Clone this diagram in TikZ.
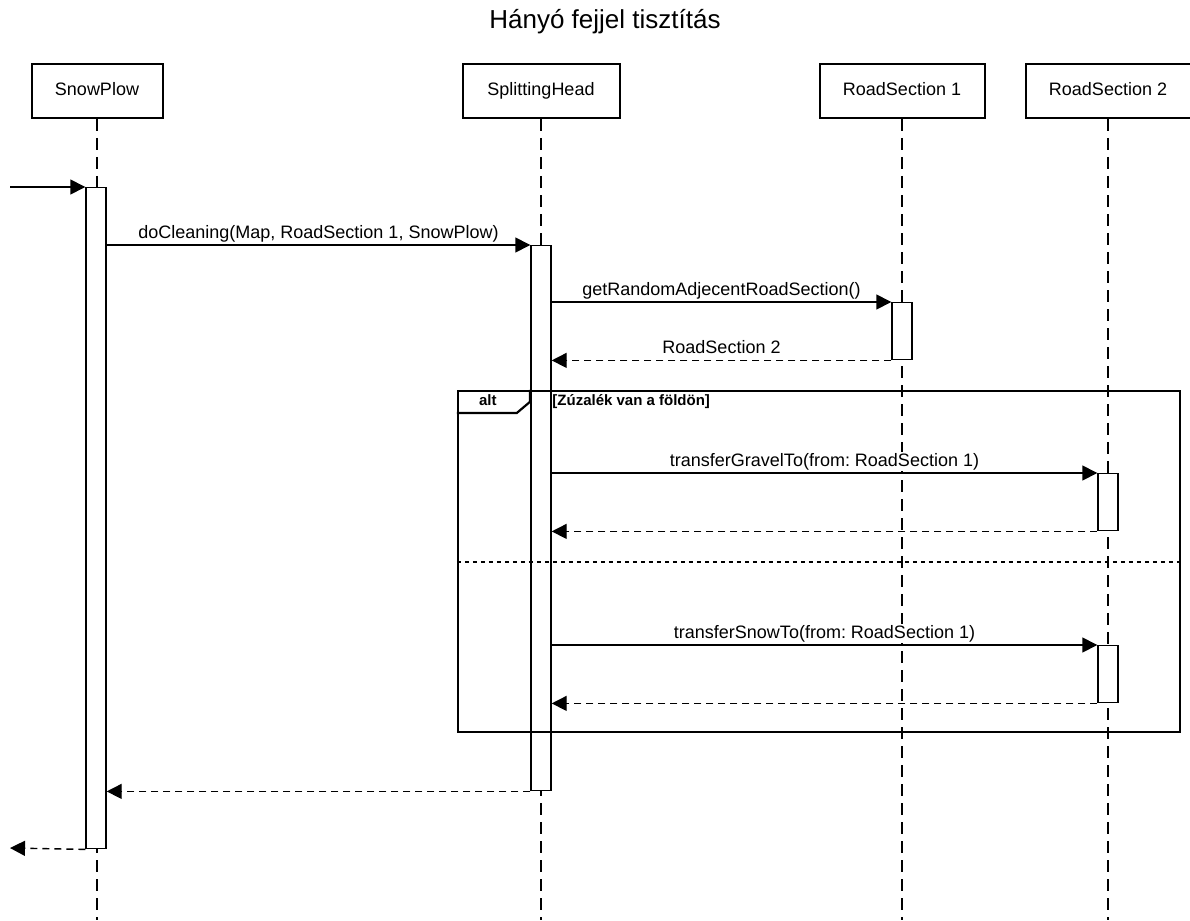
\documentclass[tikz,border=0pt]{standalone}
\usepackage{fontspec}
\setmainfont{Liberation Sans}
\usetikzlibrary{arrows.meta}
\frenchspacing
\begin{document}
\begin{tikzpicture}[x=1pt,y=-1pt,
  part/.style={draw, line width=2pt, fill=white, minimum height=54pt, font=\fontsize{18}{20}\selectfont, inner sep=0pt, text height=13pt, text depth=4pt},
  life/.style={line width=1.4pt, dash pattern=on 12pt off 7pt},
  actbar/.style={draw, line width=1.4pt, fill=white, minimum width=20pt, inner sep=0pt, anchor=north},
  msg/.style={line width=1.4pt, -{Triangle[length=15pt,width=15pt]}},
  ret/.style={msg, dash pattern=on 7pt off 5pt},
  lbl/.style={font=\fontsize{18}{20}\selectfont\frenchspacing, anchor=base, yshift=7pt, fill=white, inner sep=1pt},
  frame/.style={draw, line width=2.2pt, minimum width=722pt, minimum height=341pt, inner sep=0pt},
  sep/.style={line width=2.2pt, dash pattern=on 4pt off 4pt},
  grd/.style={font=\bfseries\fontsize{15}{17}\selectfont, anchor=base west}
]
\useasboundingbox (0,0) rectangle (1190,920);
\fill[white] (0,0) rectangle (1190,920);

\node[font=\fontsize{26}{30}\selectfont, anchor=base] (title) at (605,29) {Hányó fejjel tisztítás};

% participants
\node[part, minimum width=131pt] (p1) at (97,91) {SnowPlow};
\node[part, minimum width=157pt] (p2) at (541,91) {SplittingHead};
\node[part, minimum width=165pt] (p3) at (902,91) {RoadSection 1};
\node[part, minimum width=165pt] (p4) at (1108,91) {RoadSection 2};

\coordinate (bot) at (0,920);
\draw[life] (p1.south) -- (p1.south |- bot);
\draw[life] (p2.south) -- (p2.south |- bot);
\draw[life] (p3.south) -- (p3.south |- bot);
\draw[life] (p4.south) -- (p4.south |- bot);

% activation bars
\node[actbar, minimum height=661pt] (b1) at (96,187) {};
\node[actbar, minimum height=545pt] (b2) at (541,245) {};
\node[actbar, minimum height=57pt] (b3) at (902,302) {};
\node[actbar, minimum height=57pt] (b4) at (1108,473) {};
\node[actbar, minimum height=57pt] (b5) at (1108,645) {};

% alt frame
\node[frame] (alt) at (819,561.5) {};
\draw[line width=2.2pt] (alt.north west) ++(0,23) -- ++(60,0) -- ++(13,-11) -- ++(0,-12);
\node[font=\bfseries\fontsize{15}{17}\selectfont, anchor=base] (altlbl) at ([xshift=31pt,yshift=-16pt]alt.north west) {alt};
\node[grd] (guard) at ([xshift=92pt,yshift=-16pt]alt.north west) {[Zúzalék van a földön]};
\coordinate (sepy) at (0,562);
\draw[sep] (alt.west |- sepy) -- (alt.east |- sepy);

% messages
\coordinate (start) at (10,187);
\coordinate (finish) at (10,848);
\draw[msg] (start) -- (b1.north west);
\draw[msg] (b1.east |- b2.north) -- (b2.north west) node[lbl, midway] {doCleaning(Map, RoadSection 1, SnowPlow)};
\draw[msg] (b2.east |- b3.north) -- (b3.north west) node[lbl, midway] {getRandomAdjecentRoadSection()};
\draw[ret] (b3.south west) -- (b2.east |- b3.south) node[lbl, midway] {RoadSection 2};
\draw[msg] (b2.east |- b4.north) -- (b4.north west) node[lbl, midway] {transferGravelTo(from: RoadSection 1)};
\draw[ret] (b4.south west) -- (b2.east |- b4.south);
\draw[msg] (b2.east |- b5.north) -- (b5.north west) node[lbl, midway] {transferSnowTo(from: RoadSection 1)};
\draw[ret] (b5.south west) -- (b2.east |- b5.south);
\draw[ret] (b2.south west) -- (b1.east |- b2.south);
\draw[ret] (b1.south west) -- (finish);
\end{tikzpicture}
\end{document}
